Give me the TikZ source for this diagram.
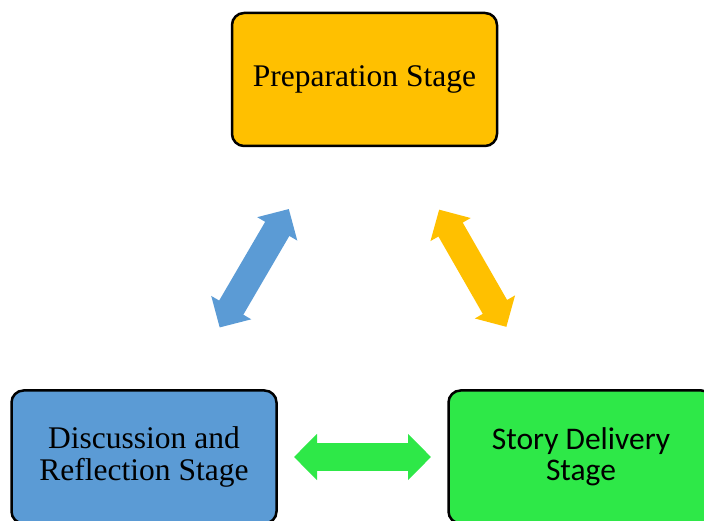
\documentclass[tikz,border=0pt]{standalone}
\usepackage{fontspec}
\setmainfont{Liberation Serif}
\newfontfamily\calibrifont{Carlito}
\usepackage{tikz}
\usetikzlibrary{arrows.meta}
\usepackage{xcolor}
\definecolor{prepgold}{RGB}{255,192,0}
\definecolor{discblue}{RGB}{91,155,213}
\definecolor{storygreen}{RGB}{46,232,72}

\begin{document}
\begin{tikzpicture}[
    x=1pt, y=1pt,
    stagebox/.style={
        rectangle, rounded corners=12pt, draw=black, line width=2.5pt,
        minimum width=265pt, minimum height=133pt, inner sep=0pt,
        align=center, font=\fontsize{31.5}{32.5}\selectfont
    },
    dblarrow/.style={
        {Triangle[length=23pt, width=45pt]}-{Triangle[length=23pt, width=45pt]},
        line width=28pt, shorten <=150pt, shorten >=150pt
    }
]
\clip (0,0) rectangle (704,521);

% Stages
\node[stagebox, fill=prepgold] (prep) at (364.5, 441.5) {Preparation Stage};
\node[stagebox, fill=discblue] (disc) at (144, 64) {Discussion and\\Reflection Stage};
\node[stagebox, fill=storygreen, font=\calibrifont\fontsize{31.5}{31}\selectfont] (story) at (581, 64) {Story Delivery\\Stage};

% Arrows between stages
\draw[dblarrow, draw=discblue] (disc.center) -- (prep.center);
\draw[dblarrow, draw=prepgold] (prep.center) -- (story.center);
\draw[dblarrow, draw=storygreen] (disc.center) -- (story.center);

\end{tikzpicture}
\end{document}
